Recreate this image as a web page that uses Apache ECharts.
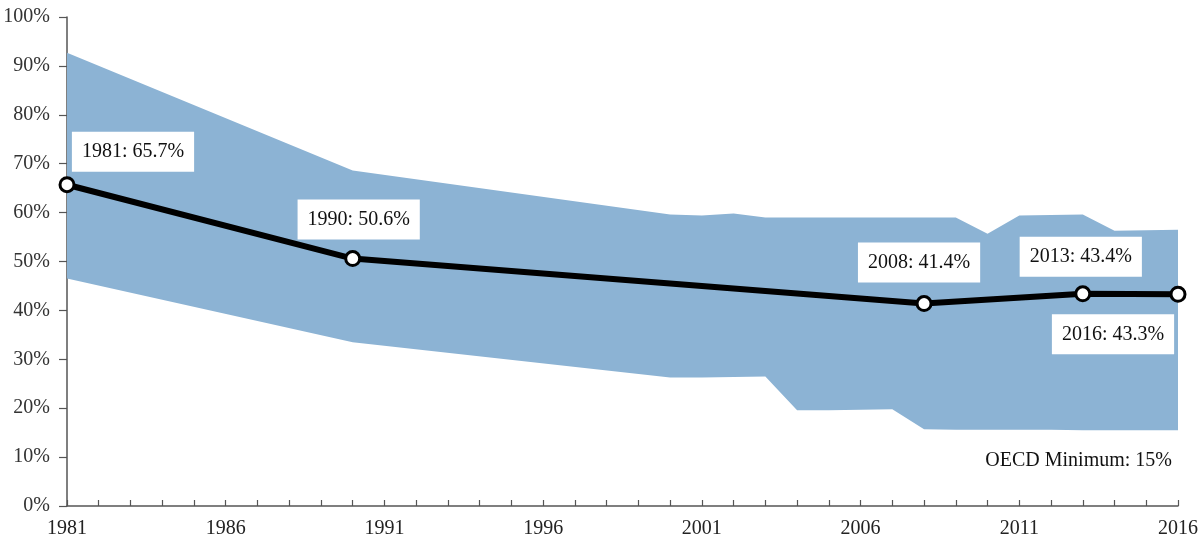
<!DOCTYPE html>
<html>
<head>
<meta charset="utf-8">
<script src="https://cdn.jsdelivr.net/npm/echarts@6/dist/echarts.min.js"></script>
<style>
  html, body { margin: 0; padding: 0; background: #fff; }
  #main { width: 1204px; height: 542px; }
</style>
</head>
<body>
<div id="main"></div>
<script>
/* 数据 */
var bandYears = [1981, 1990, 2000, 2001, 2002, 2003, 2004, 2005, 2006, 2007, 2008, 2009, 2010, 2011, 2012, 2013, 2014, 2015, 2016];
var bandMax = [92.7, 68.6, 59.6, 59.4, 59.8, 59.0, 59.0, 59.0, 59.0, 59.0, 59.0, 59.0, 55.7, 59.4, 59.5, 59.6, 56.3, 56.4, 56.5];
var bandMin = [46.5, 33.5, 26.3, 26.3, 26.4, 26.5, 19.6, 19.6, 19.7, 19.8, 15.7, 15.6, 15.6, 15.6, 15.6, 15.5, 15.5, 15.5, 15.5];

var lineYears = [1981, 1990, 2008, 2013, 2016];
var lineValues = [65.7, 50.6, 41.4, 43.4, 43.3];

var yTicks = [0, 10, 20, 30, 40, 50, 60, 70, 80, 90, 100];
var xLabelYears = [1981, 1986, 1991, 1996, 2001, 2006, 2011, 2016];
var minNote = 'OECD Minimum: 15%';

var myChart = echarts.init(document.getElementById('main'));

// 标签偏移（相对圆点中心）
var labelOffsets = [[66, -33], [6, -39], [-5, -41], [-2, -37], [-65, 40]];

// 区间带数据 [年, 最小, 最大]
var bandData = [];
bandYears.map(function (y, i) {
    bandData.push([y, bandMin[i], bandMax[i]]);
});

var lineData = [];
lineYears.map(function (y, i) {
    lineData.push({
        value: [y, lineValues[i]],
        label: { offset: labelOffsets[i] }
    });
});

/* 自定义渲染区间带：只在第一个数据项画整块多边形 */
function renderBand(params, api) {
    if (params.dataIndex !== 0) return null;
    var top = [];
    var bottom = [];
    bandData.map(function (d) {
        top.push(api.coord([d[0], d[2]]));
        bottom.push(api.coord([d[0], d[1]]));
    });
    var points = top.concat(bottom.reverse());
    return {
        type: 'polygon',
        shape: { points: points },
        style: { fill: '#8cb3d4' }
    };
}

var serif = '"Liberation Serif", "Times New Roman", serif';
var axisColor = '#555';

var option = {
    animation: false,
    grid: {
        left: 67,
        right: 26,
        top: 17,
        bottom: 36,
        outerBoundsMode: 'none'
    },
    xAxis: {
        type: 'value',
        min: 1981,
        max: 2016,
        interval: 1,
        splitLine: { show: false },
        axisLine: { lineStyle: { color: axisColor, width: 1.5 } },
        axisTick: { inside: true, length: 6, lineStyle: { color: axisColor, width: 1.2 } },
        axisLabel: {
            margin: 13,
            color: '#222',
            fontFamily: serif,
            fontSize: 20,
            formatter: function (v) {
                return xLabelYears.indexOf(v) > -1 ? String(v) : '';
            }
        }
    },
    yAxis: {
        type: 'value',
        min: yTicks[0],
        max: yTicks[yTicks.length - 1],
        interval: 10,
        splitLine: { show: false },
        axisLine: { show: true, lineStyle: { color: axisColor, width: 1.5 } },
        axisTick: { show: true, length: 8, lineStyle: { color: axisColor, width: 1.2 } },
        axisLabel: {
            margin: 17,
            color: '#333',
            fontFamily: serif,
            fontSize: 20,
            formatter: '{value}%'
        }
    },
    graphic: [{
        type: 'text',
        right: 32,
        top: 451,
        style: {
            text: minNote,
            fill: '#111',
            font: '20px ' + serif
        }
    }],
    series: [
        {
            name: 'range',
            type: 'custom',
            renderItem: renderBand,
            encode: { x: 0, y: [1, 2] },
            data: bandData,
            silent: true,
            z: 1
        },
        {
            name: 'rate',
            type: 'line',
            data: lineData,
            symbol: 'circle',
            symbolSize: 14,
            lineStyle: { color: '#000', width: 6 },
            itemStyle: { color: '#fff', borderColor: '#000', borderWidth: 3 },
            label: {
                show: true,
                position: 'inside',
                backgroundColor: '#fff',
                padding: [10, 10],
                color: '#111',
                fontFamily: serif,
                fontSize: 20,
                formatter: function (p) {
                    return p.value[0] + ': ' + p.value[1].toFixed(1) + '%';
                }
            },
            z: 5
        }
    ]
};

myChart.setOption(option);
</script>
</body>
</html>
